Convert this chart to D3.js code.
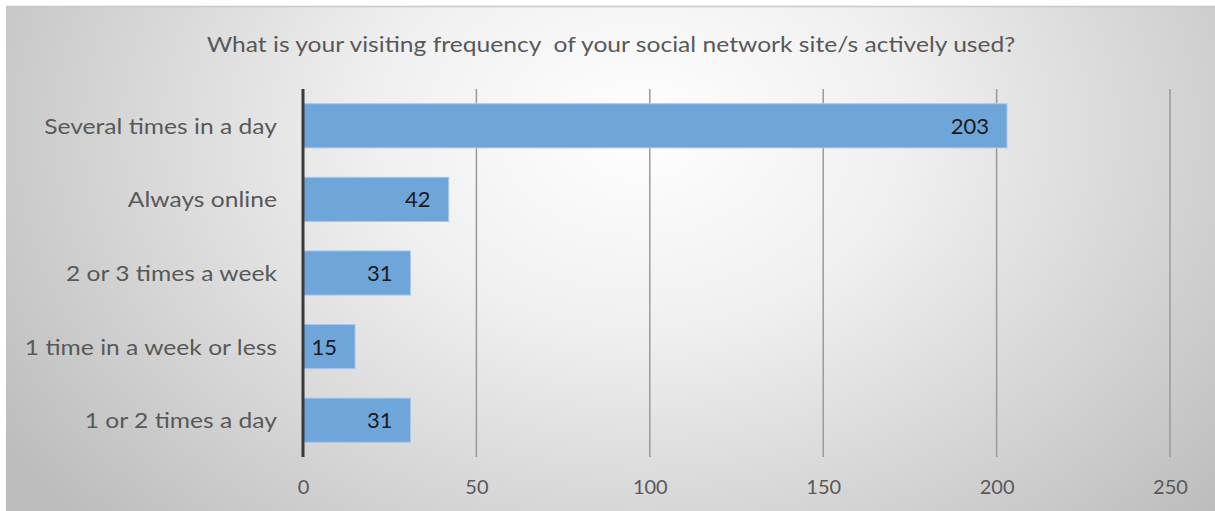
<!DOCTYPE html>
<html>
<head>
<meta charset="utf-8">
<script src="https://cdn.jsdelivr.net/npm/d3@7/dist/d3.min.js"></script>
<style>
  html, body { margin: 0; padding: 0; background: #ffffff; }
  svg { display: block; }
  text { font-family: Lato, "Open Sans", sans-serif; }
</style>
</head>
<body>
<svg id="chart" width="1215" height="511"></svg>
<script>
// Survey answers, top to bottom
const categories = [
  "Several times in a day",
  "Always online",
  "2 or 3 times a week",
  "1 time in a week or less",
  "1 or 2 times a day"
];
const counts = [203, 42, 31, 15, 31];
const xTicks = [0, 50, 100, 150, 200, 250];
const title = "What is your visiting frequency  of your social network site/s actively used?";

const W = 1215, H = 511;
const svg = d3.select("#chart");
const wide = 1.12; // horizontal stretch for the wide label lettering

// Panel background: soft radial gradient, light in the upper middle
const defs = svg.append("defs");
const grad = defs.append("radialGradient")
  .attr("id", "bg")
  .attr("gradientUnits", "userSpaceOnUse")
  .attr("cx", 640).attr("cy", 130).attr("r", 760)
  .attr("gradientTransform", "translate(640,130) scale(1,0.75) translate(-640,-130)");
grad.append("stop").attr("offset", "0%").attr("stop-color", "#ffffff");
grad.append("stop").attr("offset", "35%").attr("stop-color", "#f0f0f0");
grad.append("stop").attr("offset", "100%").attr("stop-color", "#bdbdbd");

svg.append("rect")
  .attr("x", 6).attr("y", 6).attr("width", W - 6).attr("height", H - 6)
  .attr("fill", "url(#bg)");
svg.append("line")
  .attr("x1", 6).attr("x2", W).attr("y1", 6.5).attr("y2", 6.5)
  .attr("stroke", "#c8c8c8").attr("stroke-width", 1.5);

const x = d3.scaleLinear().domain([0, 250]).range([303, 1170]);
const y = d3.scaleBand().domain(categories).range([89, 457])
  .paddingInner(0.4).paddingOuter(0.2);

// Vertical gridlines
svg.append("g")
  .selectAll("line")
  .data(xTicks.filter(d => d > 0))
  .join("line")
  .attr("x1", d => x(d)).attr("x2", d => x(d))
  .attr("y1", 89).attr("y2", 457)
  .attr("stroke", "#9a9a9a").attr("stroke-width", 1.5);

// Bars
svg.append("g")
  .selectAll("rect")
  .data(categories)
  .join("rect")
  .attr("x", x(0))
  .attr("y", d => y(d))
  .attr("width", (d, i) => x(counts[i]) - x(0))
  .attr("height", y.bandwidth())
  .attr("fill", "#6fa6da")
  .attr("stroke", "#a9c9ea")
  .attr("stroke-width", 1);

// Value labels inside bar ends
svg.append("g")
  .selectAll("text")
  .data(categories)
  .join("text")
  .attr("x", (d, i) => x(counts[i]) - 18)
  .attr("y", d => y(d) + y.bandwidth() / 2)
  .attr("dy", "0.36em")
  .attr("text-anchor", "end")
  .attr("font-size", 22)
  .attr("fill", "#1a1a1a")
  .text((d, i) => counts[i]);

// Category labels
svg.append("g")
  .selectAll("text")
  .data(categories)
  .join("text")
  .attr("transform", d => `translate(277,${y(d) + y.bandwidth() / 2}) scale(${wide},1)`)
  .attr("dy", "0.36em")
  .attr("text-anchor", "end")
  .attr("font-size", 22)
  .attr("fill", "#595959")
  .text(d => d);

// Category axis line
svg.append("line")
  .attr("x1", x(0)).attr("x2", x(0))
  .attr("y1", 89).attr("y2", 457)
  .attr("stroke", "#3a3a3a").attr("stroke-width", 3);

// Value axis
const xAxis = svg.append("g")
  .attr("transform", "translate(0,457)")
  .call(d3.axisBottom(x).tickValues(xTicks).tickSize(0).tickPadding(23));
xAxis.select(".domain").remove();
xAxis.selectAll("text")
  .attr("font-size", 20)
  .attr("fill", "#595959")
  .attr("font-family", "Lato, sans-serif");

// Title
svg.append("text")
  .attr("transform", `translate(611,52) scale(${wide},1)`)
  .attr("text-anchor", "middle")
  .attr("font-size", 22)
  .attr("fill", "#595959")
  .attr("xml:space", "preserve")
  .text(title);
</script>
</body>
</html>
